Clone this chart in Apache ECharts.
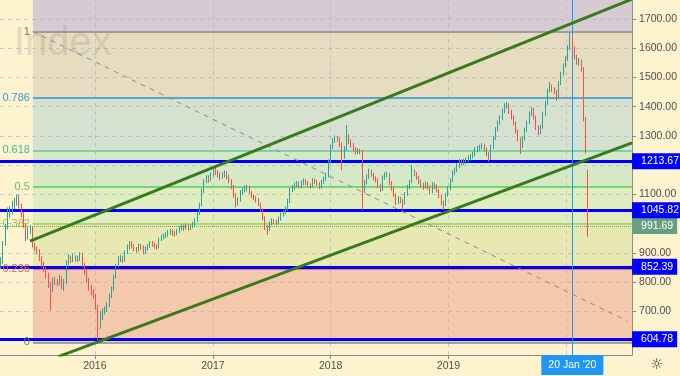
<!DOCTYPE html>
<html><head><meta charset="utf-8">
<script src="https://cdn.jsdelivr.net/npm/echarts@6/dist/echarts.min.js"></script>
<style>html,body{margin:0;padding:0;background:#fef3cf;}#c{width:680px;height:376px;}</style>
</head><body><div id="c"></div>
<script>
// ---- data ----
const firstWeek = [2015, 2, 16]; // weekly bars start (Monday)
const weeklyOHLC = [ // [open, close, low, high]
[860,870,845,885],[870,930,862,940],[930,990,925,1000],[990,1040,980,1055],[1040,1040,1020,1060],
[1040,1065,1032,1078],[1065,1075,1050,1088],[1075,1090,1062,1100],[1090,1060,1052,1098],[1060,1030,1022,1068],
[1030,995,985,1040],[995,950,940,1002],[950,978,945,988],[978,985,965,996],[985,925,918,990],
[925,915,905,935],[915,905,895,922],[905,880,872,912],[880,862,852,888],[862,845,835,870],
[845,825,812,852],[825,790,780,832],[790,770,704,798],[770,807,765,815],[807,800,790,818],
[800,797,785,810],[797,815,790,825],[815,785,775,820],[785,800,770,810],[800,865,795,875],
[865,880,858,895],[880,876,865,890],[876,886,868,898],[886,880,870,892],[880,880,868,890],
[880,895,872,902],[895,860,852,900],[860,835,825,866],[835,808,798,842],[808,782,770,815],
[782,768,755,790],[768,755,742,775],[755,715,705,760],[715,680,602,722],[680,680,640,700],
[680,696,670,710],[696,704,690,716],[704,722,698,730],[722,752,715,760],[752,775,745,785],
[775,818,770,825],[818,855,812,862],[855,878,850,888],[878,884,868,893],[884,876,866,890],
[876,900,870,908],[900,920,895,928],[920,933,912,940],[933,924,915,940],[924,915,906,930],
[915,910,900,920],[910,925,905,932],[925,920,910,930],[920,902,895,925],[902,915,897,922],
[915,922,908,930],[922,934,916,940],[934,928,920,940],[928,924,915,935],[924,920,910,930],
[920,945,915,952],[945,955,940,962],[955,958,946,966],[958,962,950,970],[962,972,955,978],
[972,975,962,982],[975,968,958,980],[968,965,956,974],[965,975,960,982],[975,985,968,992],
[985,990,978,998],[990,985,975,996],[985,992,980,1000],[992,985,976,998],[985,990,978,998],
[990,998,984,1006],[998,1010,990,1018],[1010,1035,1005,1042],[1035,1065,1030,1072],[1065,1110,1060,1120],
[1110,1145,1105,1152],[1145,1158,1138,1166],[1158,1152,1140,1165],[1152,1165,1146,1175],[1165,1182,1160,1192],
[1182,1176,1166,1190],[1176,1168,1158,1182],[1168,1160,1150,1175],[1160,1166,1154,1176],[1166,1172,1158,1182],
[1172,1162,1152,1180],[1162,1148,1138,1168],[1148,1128,1118,1152],[1128,1098,1088,1132],[1098,1072,1055,1104],
[1072,1080,1062,1090],[1080,1107,1075,1115],[1107,1114,1100,1122],[1114,1120,1106,1130],[1120,1124,1110,1132],
[1124,1107,1100,1130],[1107,1096,1088,1112],[1096,1088,1080,1100],[1088,1082,1072,1094],[1082,1068,1060,1088],
[1068,1048,1040,1072],[1048,1020,1012,1052],[1020,988,978,1025],[988,980,961,995],[980,1000,975,1008],
[1000,1010,994,1018],[1010,1008,998,1016],[1008,1003,995,1014],[1003,1016,998,1024],[1016,1030,1010,1038],
[1030,1038,1024,1046],[1038,1050,1032,1058],[1050,1075,1045,1085],[1075,1115,1070,1122],[1115,1124,1108,1132],
[1124,1132,1116,1140],[1132,1139,1124,1146],[1139,1128,1120,1144],[1128,1140,1122,1148],[1140,1146,1132,1155],
[1146,1141,1132,1152],[1141,1132,1124,1146],[1132,1128,1120,1138],[1128,1148,1124,1155],[1148,1144,1136,1154],
[1144,1138,1130,1150],[1138,1126,1118,1142],[1126,1142,1120,1150],[1142,1152,1136,1160],[1152,1163,1146,1172],
[1163,1210,1158,1220],[1210,1262,1205,1270],[1262,1284,1255,1292],[1284,1293,1276,1302],[1293,1290,1280,1300],
[1290,1274,1262,1295],[1274,1230,1183,1278],[1230,1255,1222,1265],[1255,1298,1250,1337],[1298,1282,1272,1306],
[1282,1270,1260,1288],[1270,1258,1248,1276],[1258,1245,1236,1262],[1245,1250,1238,1258],[1250,1248,1238,1256],
[1248,1112,1047,1252],[1112,1140,1105,1150],[1140,1160,1134,1168],[1160,1178,1152,1188],[1178,1168,1160,1184],
[1168,1156,1148,1174],[1156,1150,1140,1162],[1150,1130,1122,1155],[1130,1118,1108,1136],[1118,1158,1112,1165],
[1158,1168,1150,1176],[1168,1170,1158,1178],[1170,1140,1132,1174],[1140,1120,1112,1145],[1120,1100,1092,1126],
[1100,1074,1064,1104],[1074,1086,1066,1094],[1086,1080,1070,1092],[1080,1070,1047,1085],[1070,1100,1065,1108],
[1100,1124,1095,1132],[1124,1142,1118,1150],[1142,1178,1138,1200],[1178,1172,1162,1186],[1172,1159,1150,1176],
[1159,1143,1135,1164],[1143,1132,1124,1150],[1132,1126,1116,1140],[1126,1136,1120,1144],[1136,1125,1116,1142],
[1125,1110,1100,1130],[1110,1135,1104,1142],[1135,1128,1118,1140],[1128,1114,1106,1134],[1114,1094,1086,1118],
[1094,1072,1062,1098],[1072,1065,1047,1078],[1065,1098,1060,1105],[1098,1120,1092,1128],[1120,1148,1115,1155],
[1148,1174,1142,1182],[1174,1184,1166,1192],[1184,1198,1176,1206],[1198,1212,1190,1220],[1212,1208,1198,1220],
[1208,1212,1200,1222],[1212,1218,1204,1226],[1218,1225,1210,1234],[1225,1230,1216,1238],[1230,1236,1222,1245],
[1236,1252,1230,1262],[1252,1258,1244,1266],[1258,1262,1248,1270],[1262,1268,1254,1276],[1268,1255,1248,1274],
[1255,1238,1230,1260],[1238,1222,1212,1244],[1222,1262,1218,1270],[1262,1292,1256,1300],[1292,1322,1286,1330],
[1322,1345,1316,1352],[1345,1360,1338,1370],[1360,1385,1354,1394],[1385,1405,1378,1412],[1405,1408,1394,1416],
[1408,1385,1376,1412],[1385,1365,1356,1390],[1365,1345,1336,1370],[1345,1318,1308,1350],[1318,1290,1280,1322],
[1290,1265,1238,1294],[1265,1290,1258,1298],[1290,1320,1284,1328],[1320,1345,1314,1352],[1345,1375,1340,1384],
[1375,1392,1368,1398],[1392,1365,1356,1396],[1365,1330,1320,1370],[1330,1312,1302,1336],[1312,1330,1306,1338],
[1330,1375,1325,1382],[1375,1412,1368,1420],[1412,1455,1406,1462],[1455,1470,1448,1484],[1470,1458,1450,1476],
[1458,1452,1444,1466],[1452,1435,1420,1458],[1435,1480,1430,1488],[1480,1512,1474,1520],[1512,1540,1506,1548],
[1540,1562,1534,1572],[1562,1600,1556,1610],[1600,1640,1594,1655],[1640,1600,1592,1646],[1600,1570,1562,1606],
[1570,1552,1544,1578],[1552,1558,1540,1566],[1558,1530,1520,1562],[1530,1360,1350,1535],[1360,1245,1240,1365],
[1183,991.69,955,1185]
];
const priceTicks = [600,700,800,900,1000,1100,1200,1300,1400,1500,1600,1700];
const priceLabels = [700,800,900,1100,1300,1400,1500,1600,1700];
const yearTicks = ['2016-01-01','2017-01-01','2018-01-01','2019-01-01'];
const yearGrid = ['2016-01-01','2017-01-01','2018-01-01','2019-01-01','2020-01-01'];
const fibLevels = [0, 0.236, 0.382, 0.5, 0.618, 0.786, 1, 1.618];
const fibNames = ['0','0.236','0.382','0.5','0.618','0.786','1'];
const fibLow = 594, fibHigh = 1657;
const fibStart = '2015-06-23';
const keyLevels = [1213.67, 1045.82, 852.39, 604.78];
const lastPrice = 991.69;
const crossDate = '2020-01-20';
const crossText = "20 Jan '20";
const upperChannel = [['2015-06-14', 940], ['2020-07-23', 1768]];
const lowerChannel = [['2015-09-10', 545], ['2020-07-23', 1276]];
const diagonal = [['2015-06-23', 1657], ['2020-07-08', 667]];
const xMin = '2015-03-13', xMax = '2020-07-23';
const yMin = 550.5, yMax = 1765;

// ---- styles ----
const bandColors = ['#f4c8ab', '#e8e9b2', '#e0edbe', '#d6e9c6', '#d6e1cf', '#e6dcbf', '#d6cad3'];
const fibLineColors = ['#888888', '#e05a5a', '#a6cc58', '#5cc85c', '#5cc8a0', '#5aa6cf', '#8a8a8a'];
const fibTextColors = ['#777777', '#e05a5a', '#9cc44a', '#5cc85c', '#3fbf98', '#3c9ed8', '#777777'];
const FONT = 'Liberation Sans';

function ts(s) { return new Date(s + 'T00:00:00').getTime(); }
const candleData = weeklyOHLC.map((r, i) => {
  const d = new Date(firstWeek[0], firstWeek[1], firstWeek[2] + 7 * i).getTime();
  return [d, r[0], r[1], r[2], r[3]];
});
const fibPrice = l => fibLow + l * (fibHigh - fibLow);

const chart = echarts.init(document.getElementById('c'));
const bands = [];
for (let k = 0; k < fibLevels.length - 1; k++) {
  bands.push([
    { xAxis: ts(fibStart), yAxis: fibPrice(fibLevels[k]), itemStyle: { color: bandColors[k], opacity: 1 } },
    { xAxis: ts(xMax), yAxis: Math.min(fibPrice(fibLevels[k + 1]), yMax) }
  ]);
}
const fibLinesData = fibNames.map((n, k) => [
  { coord: [ts(fibStart), fibPrice(fibLevels[k])],
    lineStyle: { color: fibLineColors[k], width: k === 5 ? 2 : 1.5, type: 'solid' },
    label: { show: true, position: 'start', distance: 3, formatter: n, color: fibTextColors[k], fontSize: 11, fontFamily: FONT } },
  { coord: [ts(xMax), fibPrice(fibLevels[k])] }
]);
const gridData = yearGrid.map(y => ({ xAxis: ts(y) })).concat(priceTicks.map(v => ({ yAxis: v })));

chart.setOption({
  animation: false,
  backgroundColor: '#fef3cf',
  grid: { left: 0, right: 47, top: 0, bottom: 21 },
  xAxis: {
    type: 'value', min: ts(xMin), max: ts(xMax), scale: true,
    splitLine: { show: false },
    axisLine: { show: true, lineStyle: { color: '#8a8a8a' } },
    axisTick: { show: true, length: 4, customValues: yearTicks.map(ts), lineStyle: { color: '#8a8a8a' } },
    axisLabel: { customValues: yearTicks.map(ts), formatter: v => String(new Date(v).getFullYear()), color: '#505050', fontSize: 10.5, margin: 6, fontFamily: FONT }
  },
  yAxis: {
    type: 'value', position: 'right', min: yMin, max: yMax, scale: true,
    splitLine: { show: false },
    axisLine: { show: true, lineStyle: { color: '#8a8a8a' } },
    axisTick: { show: true, length: 4, customValues: priceTicks, lineStyle: { color: '#8a8a8a' } },
    axisLabel: { customValues: priceLabels, formatter: v => v.toFixed(2), color: '#505050', fontSize: 10.5, margin: 7, fontFamily: FONT }
  },
  graphic: [
    { type: 'text', left: 14, top: 24, z: 100, silent: true,
      style: { text: 'Index', fontSize: 40, fontFamily: FONT, fill: 'rgba(130,125,110,0.2)' } },
    { type: 'text', left: 650, top: 358, z: 100, silent: true,
      style: { text: '\u263C', fontSize: 15, fontFamily: 'DejaVu Sans', fill: '#333' } }
  ],
  series: [
    { type: 'line', data: [], z: 1, silent: true,
      markArea: { silent: true, data: bands } },
    { type: 'line', data: [], z: 2, silent: true,
      markLine: { silent: true, symbol: ['none', 'none'], label: { show: false },
        lineStyle: { color: 'rgba(150,165,215,0.5)', type: [4, 4], width: 1 }, data: gridData } },
    { type: 'line', data: [], z: 3, silent: true,
      markLine: { silent: true, symbol: ['none', 'none'], data: fibLinesData } },
    { type: 'candlestick', z: 5, barWidth: 1.3, data: candleData, encode: { x: 0, y: [1, 2, 3, 4] },
      itemStyle: { color: '#26a69a', color0: '#ef5350', borderColor: '#26a69a', borderColor0: '#ef5350', borderWidth: 1 } },
    { type: 'line', z: 6, silent: true, showSymbol: false, data: diagonal.map(p => [ts(p[0]), p[1]]),
      lineStyle: { color: '#8a8a8a', width: 1, type: [5, 5] } },
    { type: 'line', z: 7, silent: true, showSymbol: false, data: upperChannel.map(p => [ts(p[0]), p[1]]),
      lineStyle: { color: '#3a7a1c', width: 3 } },
    { type: 'line', z: 7, silent: true, showSymbol: false, data: lowerChannel.map(p => [ts(p[0]), p[1]]),
      lineStyle: { color: '#3a7a1c', width: 3 } },
    { type: 'line', data: [], z: 8, silent: true,
      markLine: { silent: true, symbol: ['none', 'none'],
        lineStyle: { color: '#6a9e84', type: 'dotted', width: 1 },
        label: { position: 'end', distance: 0, formatter: p => p.value.toFixed(2), backgroundColor: '#6a9e84', color: '#fff', padding: [3, 4, 2, 9], fontSize: 10.5, fontFamily: FONT },
        data: [{ yAxis: lastPrice }] } },
    { type: 'line', data: [], z: 9, silent: true,
      markLine: { silent: true, symbol: ['none', 'none'],
        lineStyle: { color: '#0000ff', type: 'solid', width: 3 },
        label: { position: 'end', distance: 0, formatter: p => p.value.toFixed(2), backgroundColor: '#0000ff', color: '#fff', padding: [3, 4, 2, 9], fontSize: 10.5, fontFamily: FONT },
        data: keyLevels.map(v => ({ yAxis: v })) } },
    { type: 'line', data: [], z: 10, silent: true,
      markLine: { silent: true, symbol: ['none', 'none'],
        lineStyle: { color: '#2196f3', type: 'solid', width: 1 },
        label: { position: 'start', distance: 0, formatter: crossText, backgroundColor: '#2196f3', color: '#fff', padding: [5, 7, 4, 7], fontSize: 10.5, fontFamily: FONT },
        data: [{ xAxis: ts(crossDate) }] } }
  ]
});
</script></body></html>
